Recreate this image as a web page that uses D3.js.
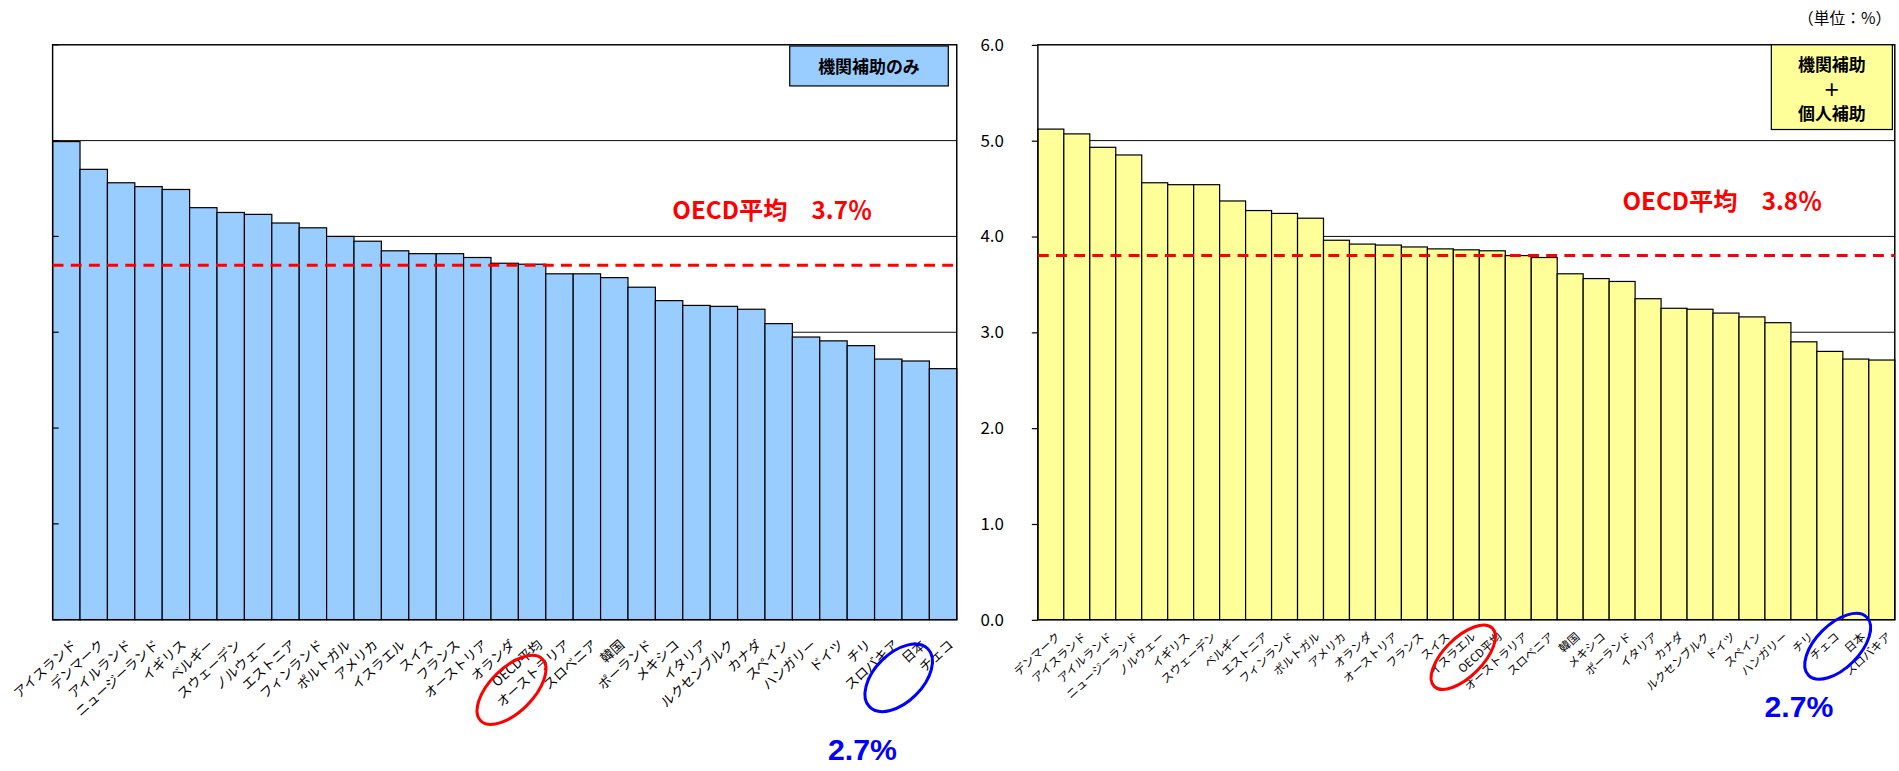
<!DOCTYPE html>
<html><head><meta charset="utf-8">
<script src="https://cdn.jsdelivr.net/npm/d3@7"></script>
<style>body{margin:0;background:#fff}text{font-family:"Noto Sans CJK JP",sans-serif}</style>
</head><body>
<svg id="c" width="1899" height="771" viewBox="0 0 1568 637"></svg>
<script>
var leftNames = ["アイスランド","デンマーク","アイルランド","ニュージーランド","イギリス","ベルギー","スウェーデン","ノルウェー","エストニア","フィンランド","ポルトガル","アメリカ","イスラエル","スイス","フランス","オーストリア","オランダ","OECD平均","オーストラリア","スロベニア","韓国","ポーランド","メキシコ","イタリア","ルクセンブルク","カナダ","スペイン","ハンガリー","ドイツ","チリ","スロバキア","日本","チェコ"];
var leftValues = [4.99,4.70,4.56,4.52,4.49,4.30,4.25,4.23,4.14,4.09,4.00,3.95,3.85,3.82,3.82,3.78,3.72,3.71,3.61,3.61,3.57,3.47,3.33,3.28,3.27,3.24,3.09,2.95,2.91,2.86,2.72,2.70,2.62];
var rightNames = ["デンマーク","アイスランド","アイルランド","ニュージーランド","ノルウェー","イギリス","スウェーデン","ベルギー","エストニア","フィンランド","ポルトガル","アメリカ","オランダ","オーストリア","フランス","スイス","イスラエル","OECD平均","オーストラリア","スロベニア","韓国","メキシコ","ポーランド","イタリア","カナダ","ルクセンブルク","ドイツ","スペイン","ハンガリー","チリ","チェコ","日本","スロバキア"];
var rightValues = [5.12,5.07,4.93,4.85,4.56,4.54,4.54,4.37,4.27,4.24,4.19,3.96,3.92,3.91,3.89,3.87,3.86,3.85,3.80,3.78,3.61,3.56,3.53,3.35,3.25,3.24,3.20,3.16,3.10,2.90,2.80,2.72,2.71];
var yTicks = [0,1,2,3,4,5,6];

var svg = d3.select("#c");
var y = d3.scaleLinear().domain([0,6]).range([512,37]);

function panel(x0, x1, names, values, fill, avg, avgX, legend, legBox, o) {
  var g = svg.append("g");
  var x = d3.scaleBand().domain(names).range([x0,x1]).padding(0);
  var cx = d => x(d) + x.bandwidth()/2;
  g.selectAll(".grid").data([3,4,5]).enter().append("line")
    .attr("x1",x0).attr("x2",x1).attr("y1",y).attr("y2",y).attr("stroke","#000").attr("stroke-width",0.8);
  g.selectAll("rect.bar").data(values).enter().append("rect")
    .attr("x",(d,i)=>x(names[i])).attr("width",x.bandwidth())
    .attr("y",d=>y(d)).attr("height",d=>y(0)-y(d))
    .attr("fill",fill).attr("stroke","#000").attr("stroke-width",1);
  g.append("rect").attr("x",x0).attr("y",37).attr("width",x1-x0).attr("height",475)
    .attr("fill","none").attr("stroke","#000").attr("stroke-width",1.2);
  g.append("line").attr("x1",x0).attr("x2",x1).attr("y1",y(avg)).attr("y2",y(avg))
    .attr("stroke","#f00").attr("stroke-width",2.5).attr("stroke-dasharray","9,6");
  g.append("text").attr("x",avgX).attr("y",y(avg)-38).attr("fill","#f00")
    .attr("font-size",20).attr("font-weight","bold").text("OECD平均　" + avg.toFixed(1) + "％");
  g.selectAll("text.lab").data(names).enter().append("text")
    .attr("transform",d=>"translate("+(cx(d)+4)+","+o.labY+") rotate(-42)")
    .attr("text-anchor","end").attr("font-size",o.fs).attr("dy","0.7em").text(d=>d);
  var nO = "OECD平均", nJ = "日本";
  [[nO,o.oe,"#f00"],[nJ,o.je,"#00f"]].forEach(function(e){
    var ex = cx(e[0]) + e[1][0], ey = e[1][1];
    g.append("ellipse").attr("cx",ex).attr("cy",ey).attr("rx",e[1][2]).attr("ry",e[1][3])
      .attr("transform","rotate(-45,"+ex+","+ey+")")
      .attr("fill","none").attr("stroke",e[2]).attr("stroke-width",2.5);
  });
  g.append("text").attr("x",cx(nJ)+o.pct[0]).attr("y",o.pct[1]).attr("fill","#00f")
    .attr("font-size",25).attr("font-weight","bold").attr("text-anchor","middle")
    .style("font-family","Liberation Sans, sans-serif")
    .text(values[names.indexOf(nJ)].toFixed(1)+"%");
  g.append("rect").attr("x",legBox.x).attr("y",legBox.y).attr("width",legBox.w).attr("height",legBox.h)
    .attr("fill",fill).attr("stroke","#000").attr("stroke-width",1);
  legend.forEach(function(t,i){
    g.append("text").attr("x",legBox.x+legBox.w/2).attr("y",legBox.y+22+i*20)
      .attr("text-anchor","middle").attr("font-size",14).attr("font-weight","bold").text(t);
  });
}

panel(43,790,leftNames,leftValues,"#99ccff",3.7,555,["機関補助のみ"],{x:652,y:38,w:131,h:33},
  {labY:528, fs:11, oe:[-17,570,36,18], je:[-14,560,34,20], pct:[-44,628]});
panel(857,1565,rightNames,rightValues,"#ffff99",3.8,1340,["機関補助","＋","個人補助"],{x:1463,y:37,w:100,h:70},
  {labY:522, fs:9.5, oe:[-24,543,34,16], je:[-15,534,34,18], pct:[-47,592]});

svg.selectAll(".lt").data(yTicks).enter().append("line")
  .attr("x1",43).attr("x2",48).attr("y1",y).attr("y2",y).attr("stroke","#000");
var ax = svg.append("g").attr("transform","translate(857,0)")
  .call(d3.axisLeft(y).tickValues(yTicks).tickFormat(d3.format(".1f")).tickSize(5));
ax.select(".domain").remove();
ax.selectAll("text").attr("font-size",14).attr("x",-28).attr("font-family","Liberation Sans, sans-serif");
svg.append("text").attr("x",1562).attr("y",20).attr("text-anchor","end").attr("font-size",13).text("（単位：%）");
</script>
</body></html>
